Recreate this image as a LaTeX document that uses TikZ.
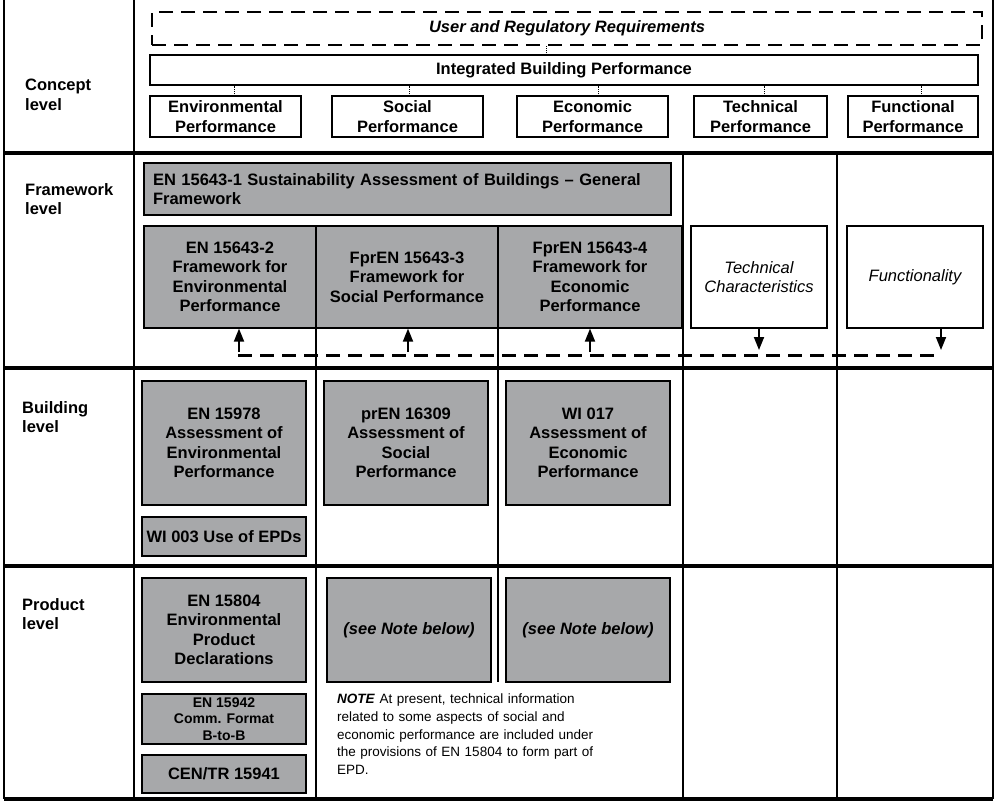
\documentclass[tikz,border=0pt]{standalone}
\usepackage{fontspec}
\setmainfont{Liberation Sans}
\usetikzlibrary{arrows.meta}
\definecolor{boxgray}{RGB}{167,168,170}
\begin{document}
\begin{tikzpicture}[x=1pt,y=-1pt,
  big/.style={font=\bfseries\fontsize{16.5}{19.5}\selectfont},
  gbox/.style={draw, fill=boxgray, line width=1.2pt, align=center, inner sep=0pt, big},
  wbox/.style={draw, fill=white, line width=1.2pt, align=center, inner sep=0pt, big},
  lvl/.style={anchor=west, align=left, inner sep=0pt, big},
  gridline/.style={line width=1.4pt},
  rowline/.style={line width=3.8pt},
  dots/.style={densely dotted, line width=0.8pt},
  dashline/.style={line width=3pt, dash pattern=on 14pt off 8pt},
  arr/.style={line width=1.8pt, -{Triangle[length=13pt,width=10pt]}}
]
\useasboundingbox (0,0) rectangle (1002,806);
% grid
\draw[gridline] (4,0) -- (4,799);
\draw[gridline] (134,0) -- (134,799);
\draw[gridline] (993,0) -- (993,799);
\draw[gridline] (683,153) -- (683,799);
\draw[gridline] (837,153) -- (837,799);
\draw[gridline] (316,226) -- (316,799);
\draw[gridline] (498,226) -- (498,682);
\foreach \y in {153,368,566,799} \draw[rowline] (4,\y) -- (993,\y);
% level labels
\node[lvl] (l1) at (25,95) {Concept\\level};
\node[lvl] (l2) at (25,199) {Framework\\level};
\node[lvl] (l3) at (22,417) {Building\\level};
\node[lvl] (l4) at (22,614) {Product\\level};
% concept level
\node[draw, line width=2.8pt, dash pattern=on 14pt off 8pt, minimum width=830, minimum height=33, inner sep=0pt,
      font=\bfseries\itshape\fontsize{16.5}{19.5}\selectfont] (req) at (567,28.5) {User and Regulatory Requirements};
\node[wbox, minimum width=828, minimum height=30] (ibp) at (564,70) {Integrated Building Performance};
\node[wbox, minimum width=151, minimum height=41] (env) at (225.5,116.5) {Environmental\\Performance};
\node[wbox, minimum width=151, minimum height=41] (soc) at (407.5,116.5) {Social\\Performance};
\node[wbox, minimum width=151, minimum height=41] (eco) at (592.5,116.5) {Economic\\Performance};
\node[wbox, minimum width=133, minimum height=41] (tec) at (760.5,116.5) {Technical\\Performance};
\node[wbox, minimum width=130, minimum height=41] (fun) at (913,116.5) {Functional\\Performance};
\draw[dots] (546,0 |- req.south) -- (546,0 |- ibp.north);
\foreach \n/\x in {env/234,soc/409,eco/598,tec/764,fun/921}
  \draw[dots] (\x,0 |- ibp.south) -- (\x,0 |- \n.north);
% framework level
\node[gbox, minimum width=527, minimum height=52, text width=509, align=left] (gf) at (407.5,189)
  {EN 15643-1 Sustainability Assessment of Buildings -- General\\Framework};
\node[gbox, minimum width=172, minimum height=102] (f2) at (230,277) {EN 15643-2\\Framework for\\Environmental\\Performance};
\node[gbox, minimum width=182, minimum height=102] (f3) at (407,277) {FprEN 15643-3\\Framework for\\Social Performance};
\node[gbox, minimum width=184, minimum height=102] (f4) at (590,277) {FprEN 15643-4\\Framework for\\Economic\\Performance};
\node[wbox, minimum width=136, minimum height=102, font=\itshape\fontsize{16.5}{19.5}\selectfont] (tc) at (759,277) {Technical\\Characteristics};
\node[wbox, minimum width=136, minimum height=102, font=\itshape\fontsize{16.5}{19.5}\selectfont] (fn) at (915,277) {Functionality};
\coordinate (d0) at (238,355);
\coordinate (d1) at (941,355);
\draw[dashline] (d0) -- (d1);
\draw[arr] (239,352) -- (239,0 |- f2.south);
\draw[arr] (408,352) -- (408,0 |- f3.south);
\draw[arr] (590,352) -- (590,0 |- f4.south);
\draw[arr] (759,0 |- tc.south) -- (759,350);
\draw[arr] (941,0 |- fn.south) -- (941,350);
% building level
\node[gbox, minimum width=164, minimum height=124] (b1) at (224,443) {EN 15978\\Assessment of\\Environmental\\Performance};
\node[gbox, minimum width=164, minimum height=39] (b1b) at (224,536.5) {WI 003 Use of EPDs};
\node[gbox, minimum width=164, minimum height=124] (b2) at (406,443) {prEN 16309\\Assessment of\\Social\\Performance};
\node[gbox, minimum width=164, minimum height=124] (b3) at (588,443) {WI 017\\Assessment of\\Economic\\Performance};
% product level
\node[gbox, minimum width=164, minimum height=104] (p1) at (224,630) {EN 15804\\Environmental\\Product\\Declarations};
\node[gbox, minimum width=164, minimum height=50, font=\bfseries\fontsize{14}{16.5}\selectfont] (p2) at (224,719) {EN 15942\\Comm. Format\\B-to-B};
\node[gbox, minimum width=164, minimum height=38] (p3) at (224,774) {CEN/TR 15941};
\node[gbox, minimum width=164, minimum height=104, font=\bfseries\itshape\fontsize{16.5}{19.5}\selectfont] (p4) at (409,630) {(see Note below)};
\node[gbox, minimum width=164, minimum height=104, font=\bfseries\itshape\fontsize{16.5}{19.5}\selectfont] (p5) at (588,630) {(see Note below)};
\node[anchor=north west, inner sep=0pt, text width=300, align=left, font=\fontsize{13.5}{17.6}\selectfont] (note) at (337,694)
  {\textbf{\textit{NOTE}} At present, technical information\\related to some aspects of social and\\economic performance are included under\\the provisions of EN 15804 to form part of\\EPD.};
\end{tikzpicture}
\end{document}
